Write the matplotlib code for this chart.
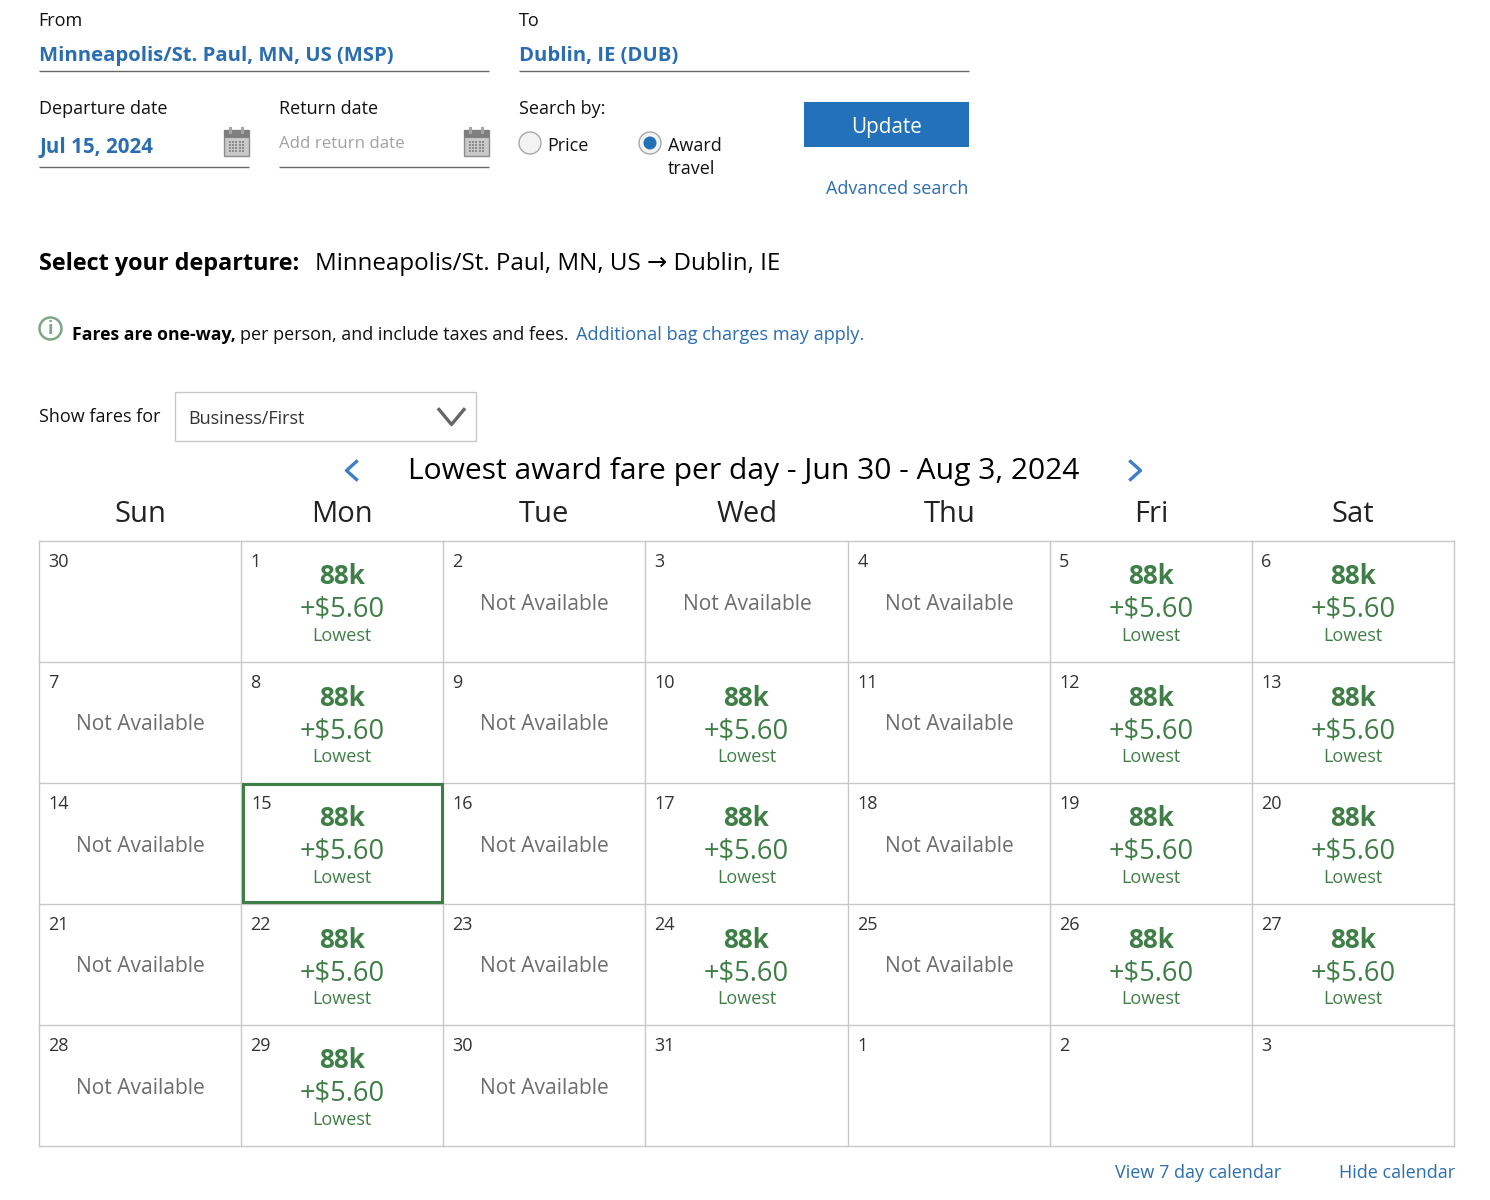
import matplotlib
matplotlib.use('Agg')
import matplotlib.pyplot as plt
from matplotlib.patches import Rectangle, Circle

plt.rcParams['font.family'] = ['Open Sans', 'DejaVu Sans']

weekdays = ['Sun', 'Mon', 'Tue', 'Wed', 'Thu', 'Fri', 'Sat']
day_numbers = [30, 1, 2, 3, 4, 5, 6,
               7, 8, 9, 10, 11, 12, 13,
               14, 15, 16, 17, 18, 19, 20,
               21, 22, 23, 24, 25, 26, 27,
               28, 29, 30, 31, 1, 2, 3]
# f = fare, n = not available, e = empty
day_status = ['e', 'f', 'n', 'n', 'n', 'f', 'f',
              'n', 'f', 'n', 'f', 'n', 'f', 'f',
              'n', 'f', 'n', 'f', 'n', 'f', 'f',
              'n', 'f', 'n', 'f', 'n', 'f', 'f',
              'n', 'f', 'n', 'e', 'e', 'e', 'e']
selected_cell = 15
fare_miles = '88k'
fare_cash = '+$5.60'
fare_note = 'Lowest'
unavailable = 'Not Available'

col_edges = [39.5, 241.5, 443.5, 645.5, 848.5, 1050.5, 1252.5, 1454.5]
row_edges = [541.5, 662.5, 783.5, 904.5, 1025.5, 1146.5]

BLUE = '#2a6db0'
BTN = '#2271b9'
GREEN = '#3f7f47'
GREY = '#6d6d6d'
LINE = '#c8c8c8'
DARK = '#111111'

fig = plt.figure(figsize=(14.9, 12), dpi=100)
ax = fig.add_axes([0, 0, 1, 1])
ax.set_xlim(0.5, 1490.5)
ax.set_ylim(1200.5, 0.5)
ax.axis('off')


def label(x, y, s, size=13, color=DARK, ha='left', weight='normal', **kw):
    ax.text(x + 0.7, y + 2, s, fontsize=size, color=color, ha=ha, va='center', fontweight=weight, **kw)


def underline(x0, x1, y):
    ax.plot([x0, x1], [y, y], color='#666666', lw=1.0, solid_capstyle='butt')


def calendar_icon(x, y):
    ax.add_patch(Rectangle((x, y + 3), 25, 26, fc='#c9c9c9', ec='#8c8c8c', lw=1))
    ax.add_patch(Rectangle((x, y + 3), 25, 8, fc='#7f7f7f', ec='none'))
    for px in (x + 5, x + 17):
        ax.add_patch(Rectangle((px, y), 3, 7, fc='#a5a5a5', ec='none'))
    for i in range(5):
        for j in range(4):
            ax.add_patch(Rectangle((x + 5 + i * 3.4, y + 14 + j * 3.2), 2, 2, fc='#8e8e8e', ec='none'))


# search form
label(38.5, 20, 'From')
label(39, 55, 'Minneapolis/St. Paul, MN, US (MSP)', size=14.6, color=BLUE, weight='bold')
underline(39, 489, 71.5)
label(519, 20, 'To')
label(519, 55, 'Dublin, IE (DUB)', size=14.6, color=BLUE, weight='bold')
underline(519, 969, 71.5)

label(39, 108, 'Departure date')
label(39, 146, 'Jul 15, 2024', size=14.8, color=BLUE, weight='bold')
underline(39, 249, 167.5)
calendar_icon(224, 127)
label(279, 108, 'Return date')
label(279, 143, 'Add return date', size=12.2, color='#a2a2a2')
underline(279, 489, 167.5)
calendar_icon(464, 127)

label(519, 108, 'Search by:')
ax.add_patch(Circle((530.5, 143.5), 11, fc='#f3f3f3', ec='#a8a8a8', lw=1))
label(547, 144.5, 'Price')
ax.add_patch(Circle((650.5, 143.5), 11, fc='#f3f3f3', ec='#a8a8a8', lw=1))
ax.add_patch(Circle((650.5, 143.5), 6.5, fc=BTN, ec='none'))
label(667.5, 144.5, 'Award')
label(667.5, 167, 'travel')
ax.add_patch(Rectangle((804, 102), 165, 45, fc=BTN, ec='none'))
label(886, 126, 'Update', size=14.9, color='white', ha='center')
label(968.5, 188, 'Advanced search', color=BLUE, ha='right')

# heading
label(39, 263, 'Select your departure:', size=16.8, color='black', weight='bold')
label(315, 263, 'Minneapolis/St. Paul, MN, US \u2192 Dublin, IE', size=17.4, color='black')

# notice
ax.add_patch(Circle((51, 329), 11, fc='white', ec='#7da783', lw=1.8))
label(50.3, 327, 'i', size=13, color='#7da783', ha='center', weight='bold')
label(72, 333, 'Fares are one-way,', size=12.7, weight='bold', color='black')
label(240, 333, 'per person, and include taxes and fees.')
label(576, 333, 'Additional bag charges may apply.', size=13.02, color=BLUE)

# cabin select
label(39, 416, 'Show fares for')
ax.add_patch(Rectangle((175.5, 392.5), 301, 49, fc='white', ec=LINE, lw=1))
label(188.5, 418, 'Business/First', color='#333333')
ax.plot([439.5, 452, 464.5], [410, 425, 410], color='#666666', lw=2.4)

# calendar title
label(744, 470.5, 'Lowest award fare per day - Jun 30 - Aug 3, 2024', size=21.6, color='black', ha='center')
ax.plot([357, 347, 357], [462, 471, 480], color='#3f7fc4', lw=2.4)
ax.plot([1131, 1141, 1131], [462, 471, 480], color='#3f7fc4', lw=2.4)

# calendar grid
for col, name in enumerate(weekdays):
    label((col_edges[col] + col_edges[col + 1]) / 2 - 0.5, 513, name, size=21, color='#222222', ha='center')
for x in col_edges:
    ax.plot([x, x], [row_edges[0], row_edges[-1]], color=LINE, lw=1)
for y in row_edges:
    ax.plot([col_edges[0], col_edges[-1]], [y, y], color=LINE, lw=1)

for i, (day, status) in enumerate(zip(day_numbers, day_status)):
    row, col = divmod(i, 7)
    left = col_edges[col]
    top = row_edges[row]
    mid = (left + col_edges[col + 1]) / 2 - 0.7
    label(left + (10 if i == selected_cell else 9) - 0.5, top + 19, str(day), size=13, color='#333333')
    if status == 'f':
        label(mid, top + 34, fare_miles, size=18.8, color=GREEN, ha='center', weight='bold')
        label(mid, top + 67, fare_cash, size=19.6, color=GREEN, ha='center')
        label(mid, top + 93, fare_note, size=13, color=GREEN, ha='center')
    elif status == 'n':
        label(mid + 0.5, top + 61, unavailable, size=15.1, color=GREY, ha='center')

sel_row, sel_col = divmod(selected_cell, 7)
ax.add_patch(Rectangle((col_edges[sel_col] + 1.5, row_edges[sel_row] + 1), 199, 118,
                       fc='none', ec=GREEN, lw=2.2, zorder=5))

# footer links
label(1281, 1172, 'View 7 day calendar', color=BLUE, ha='right')
label(1455, 1172, 'Hide calendar', color=BLUE, ha='right')

fig.savefig('out.png', dpi=100, facecolor='white')
